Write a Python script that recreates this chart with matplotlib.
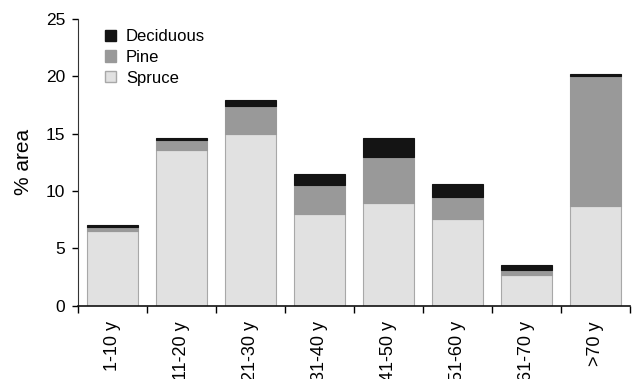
import matplotlib
matplotlib.use("Agg")
import matplotlib.pyplot as plt
import numpy as np
from matplotlib.patches import Patch

plt.rcParams['font.family'] = ['Liberation Sans', 'DejaVu Sans']

categories = ["1-10 y", "11-20 y", "21-30 y", "31-40 y", "41-50 y", "51-60 y", "61-70 y", ">70 y"]
spruce = [6.5, 13.6, 15.0, 8.0, 9.0, 7.55, 2.7, 8.7]
pine = [0.4, 0.85, 2.45, 2.55, 4.0, 1.95, 0.45, 11.3]
deciduous = [0.15, 0.2, 0.5, 0.95, 1.6, 1.1, 0.4, 0.2]

c_spruce = "#e1e1e1"
c_pine = "#999999"
c_dec = "#141414"

fig = plt.figure(figsize=(6.33, 3.79), dpi=100)
ax = fig.add_axes([0.123, 0.193, 0.872, 0.757])

x = np.arange(len(categories))
w = 0.74
spruce_a = np.array(spruce)
pine_a = np.array(pine)
dec_a = np.array(deciduous)
ax.bar(x, spruce_a, w, color=c_spruce, edgecolor="#a8a8a8", linewidth=0.8)
ax.bar(x, pine_a, w, bottom=spruce_a, color=c_pine, edgecolor=c_pine, linewidth=0.8)
ax.bar(x, dec_a, w, bottom=spruce_a + pine_a, color=c_dec, edgecolor=c_dec, linewidth=0.8)

ax.set_xlim(-0.5, len(categories) - 0.5)
ax.set_ylim(0, 25)
ax.set_yticks([0, 5, 10, 15, 20, 25])
ax.set_xticks(x)
ax.set_xticklabels(categories, rotation=90)
ax.set_xticks(np.arange(len(categories) + 1) - 0.5, minor=True)
ax.tick_params(axis="x", which="major", length=0, pad=11, labelsize=13)
ax.tick_params(axis="x", which="minor", length=5, width=1, direction="out")
ax.tick_params(axis="y", length=4, width=1, direction="out", labelsize=12.5, pad=5)

for s in ["top", "right"]:
    ax.spines[s].set_visible(False)
ax.spines["left"].set_color("#333333")
ax.spines["bottom"].set_color("#111111")
ax.spines["bottom"].set_linewidth(1.2)

ax.set_ylabel("% area", fontsize=15, labelpad=9)

handles = [Patch(facecolor=c_dec, edgecolor=c_dec),
           Patch(facecolor=c_pine, edgecolor=c_pine),
           Patch(facecolor=c_spruce, edgecolor="#a8a8a8")]
ax.legend(handles, ["Deciduous", "Pine", "Spruce"], loc="upper left",
          bbox_to_anchor=(0.022, 1.017), frameon=False, fontsize=12,
          handlelength=0.65, handleheight=0.65, handletextpad=0.6, labelspacing=0.35)

fig.savefig("out.png", dpi=100)
